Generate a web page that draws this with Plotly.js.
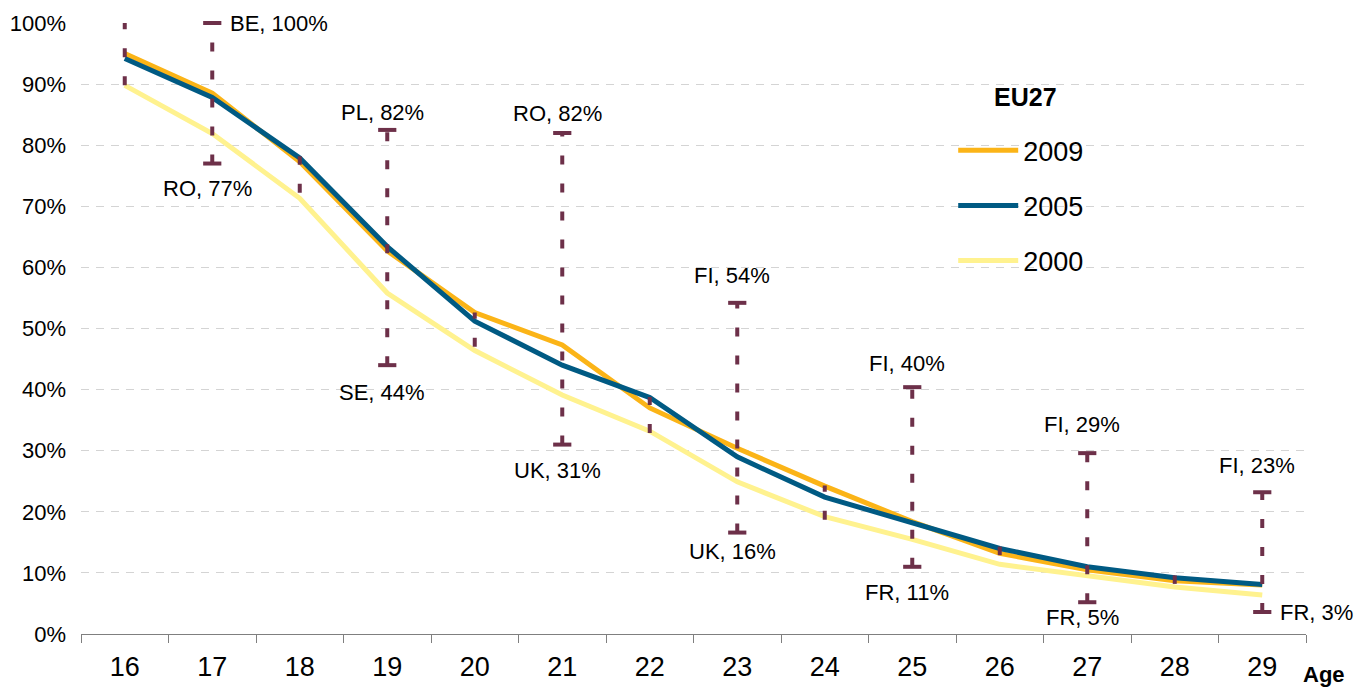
<!DOCTYPE html>
<html><head><meta charset="utf-8">
<script src="https://cdn.plot.ly/plotly-3.0.1.min.js"></script>
<style>html,body{margin:0;padding:0;background:#fff;}#chart{width:1354px;height:688px;}</style>
</head><body><div id="chart"></div>
<script>
// ---- data ----
const ages = ['16','17','18','19','20','21','22','23','24','25','26','27','28','29'];
const share2009 = [95.0, 88.5, 77.3, 62.7, 52.6, 47.3, 37.0, 30.4, 24.2, 18.4, 13.2, 10.5, 8.7, 8.0];
const share2005 = [94.2, 87.8, 77.9, 63.4, 51.2, 44.0, 38.7, 29.0, 22.4, 18.3, 14.0, 11.0, 9.2, 8.1];
const share2000 = [89.8, 81.9, 71.3, 55.8, 46.4, 39.1, 33.2, 24.9, 19.2, 15.5, 11.4, 9.5, 7.7, 6.4];
const rangeHigh = [100, 100, 78.2, 82.5, 52.6, 82.0, 38.8, 54.2, 24.3, 40.4, 14.3, 29.6, 9.6, 23.2];
const rangeLow  = [89.8, 77.0, 72.2, 44.0, 47.0, 31.0, 32.9, 16.6, 18.7, 11.0, 12.9, 5.2, 8.2, 3.6];
const highLabels = ['', 'BE, 100%', '', 'PL, 82%', '', 'RO, 82%', '', 'FI, 54%', '', 'FI, 40%', '', 'FI, 29%', '', 'FI, 23%'];
const lowLabels  = ['', 'RO, 77%', '', 'SE, 44%', '', 'UK, 31%', '', 'UK, 16%', '', 'FR, 11%', '', 'FR, 5%', '', 'FR, 3%'];
const seriesNames = ['2009', '2005', '2000'];
const legendTitle = 'EU27';
const axisLabel = 'Age';

// ---- style ----
const FONT = 'Arial, "Liberation Sans", Helvetica, sans-serif';
const C2009 = '#FBB417', C2005 = '#005A83', C2000 = '#FFF28F', CRANGE = '#6D3049';
const rightSide = {'BE, 100%': true, 'FR, 3%': true};
// vertical offsets (px) of the labels from their caps
const labelShift = {'PL, 82%': 17, 'RO, 82%': 19, 'FI, 54%': 27, 'FI, 40%': 24, 'FI, 29%': 29, 'FI, 23%': 27,
                    'RO, 77%': -25, 'SE, 44%': -27, 'UK, 31%': -26, 'UK, 16%': -19, 'FR, 11%': -26, 'FR, 5%': -15};

// vertical range segments
const segX = [], segY = [];
ages.forEach((a, i) => { segX.push(a, a, null); segY.push(rangeLow[i], rangeHigh[i], null); });
// caps at labelled ends
const capX = [], capY = [];
ages.forEach((a, i) => {
  if (highLabels[i]) { capX.push(a); capY.push(rangeHigh[i]); }
  if (lowLabels[i]) { capX.push(a); capY.push(rangeLow[i]); }
});

const traces = [
  {x: ages, y: share2000, name: seriesNames[2], type: 'scatter', mode: 'lines', line: {color: C2000, width: 5}, legendrank: 3, legendgroup: 'c', hoverinfo: 'skip'},
  {x: ages, y: share2009, name: seriesNames[0], type: 'scatter', mode: 'lines', line: {color: C2009, width: 5}, legendrank: 1, legendgroup: 'a', hoverinfo: 'skip'},
  {x: ages, y: share2005, name: seriesNames[1], type: 'scatter', mode: 'lines', line: {color: C2005, width: 5}, legendrank: 2, legendgroup: 'b', hoverinfo: 'skip'},
  {x: segX, y: segY, type: 'scatter', mode: 'lines', line: {color: CRANGE, width: 4, dash: '9px,19px'}, showlegend: false, cliponaxis: false, hoverinfo: 'skip', connectgaps: false},
  {x: capX, y: capY, type: 'scatter', mode: 'markers', marker: {symbol: 'line-ew', size: 13, color: CRANGE, line: {color: CRANGE, width: 4}}, showlegend: false, cliponaxis: false, hoverinfo: 'skip'}
];

const annotations = [];
function addLabel(i, y, t) {
  if (!t) return;
  if (rightSide[t]) annotations.push({x: i, y: y, text: t, xanchor: 'left', yanchor: 'middle', xshift: 16});
  else annotations.push({x: i, y: y, text: t, xanchor: 'center', yanchor: 'middle', xshift: -5, yshift: labelShift[t]});
}
ages.forEach((a, i) => { addLabel(i, rangeHigh[i], highLabels[i]); addLabel(i, rangeLow[i], lowLabels[i]); });
annotations.forEach(an => { an.showarrow = false; an.font = {family: FONT, size: 22, color: '#000'}; an.xref = 'x'; an.yref = 'y'; });
// axis name and legend heading
annotations.push({xref: 'paper', yref: 'paper', x: 1.0, y: 0, xanchor: 'left', yanchor: 'top', yshift: -26, xshift: -5, text: '<b>' + axisLabel + '</b>', showarrow: false, font: {family: FONT, size: 22, color: '#000'}});
annotations.push({xref: 'paper', yref: 'paper', x: (1025 - 81) / 1225, y: (634 - 97) / 611, xanchor: 'center', yanchor: 'middle', text: '<b>' + legendTitle + '</b>', showarrow: false, font: {family: FONT, size: 25, color: '#000'}});

const layout = {
  width: 1354, height: 688,
  margin: {l: 81, r: 48, t: 23, b: 54},
  paper_bgcolor: '#fff', plot_bgcolor: '#fff',
  font: {family: FONT, color: '#000'},
  showlegend: true,
  legend: {
    x: 0.712, y: 0.831, xanchor: 'left', yanchor: 'top',
    bgcolor: 'rgba(0,0,0,0)', borderwidth: 0,
    font: {family: FONT, size: 27, color: '#000'},
    tracegroupgap: 17, itemwidth: 60, traceorder: 'grouped'
  },
  shapes: [
    {type: 'rect', xref: 'paper', yref: 'paper', layer: 'between',
     x0: (955 - 81) / 1225, x1: (1126 - 81) / 1225, y0: (634 - 300) / 611, y1: (634 - 60) / 611,
     fillcolor: '#fff', line: {width: 0}}
  ],
  xaxis: {
    type: 'category', categoryorder: 'array', categoryarray: ages,
    range: [-0.5, 13.5], showgrid: false, zeroline: false,
    showline: true, linecolor: '#7f7f7f', linewidth: 1,
    ticks: 'outside', tickson: 'boundaries', ticklen: 8, tickcolor: '#7f7f7f', tickwidth: 1,
    tickfont: {family: FONT, size: 27, color: '#000'}, ticklabelstandoff: 9, fixedrange: true
  },
  yaxis: {
    range: [0, 100], dtick: 10, tick0: 0, ticksuffix: '%',
    showgrid: true, gridcolor: '#D4D4D4', gridwidth: 1, griddash: '8px,7px',
    zeroline: false, showline: false, ticks: '',
    tickfont: {family: FONT, size: 22, color: '#000'}, ticklabelstandoff: 14, fixedrange: true
  },
  annotations: annotations
};

Plotly.newPlot('chart', traces, layout, {staticPlot: true, displayModeBar: false});
</script>
</body></html>
